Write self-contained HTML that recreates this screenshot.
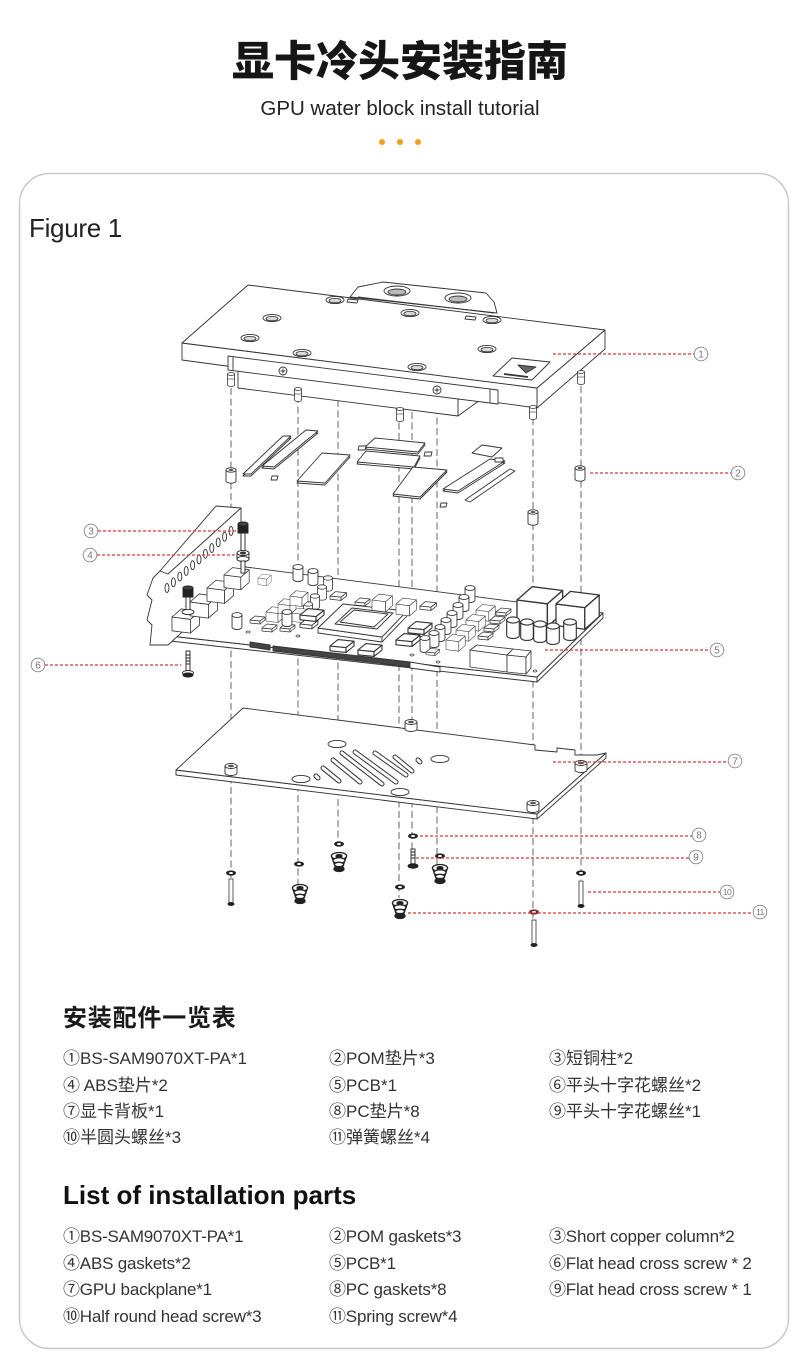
<!DOCTYPE html>
<html><head><meta charset="utf-8">
<style>
html,body{margin:0;padding:0;background:#fff;}
svg{display:block}
</style></head><body>
<svg width="800" height="1360" viewBox="0 0 800 1360" xmlns="http://www.w3.org/2000/svg" font-family="'Liberation Sans','Noto Sans CJK SC',sans-serif">
<defs>
 <g id="cap"><path d="M-4.5,0 V11 A4.5,2.2 0 0 0 4.5,11 V0 Z" fill="#fff" stroke="#333" stroke-width="0.8"/><ellipse rx="4.5" ry="2.2" fill="#fff" stroke="#333" stroke-width="0.8"/></g>
 <g id="cube" fill="#fff" stroke="#333" stroke-width="0.7" stroke-linejoin="round"><path d="M0,0 L16,2 L16,14 L0,12Z"/><path d="M16,2 L24,-5 L24,7 L16,14Z"/><path d="M0,0 L8,-7 L24,-5 L16,2Z"/></g>
 <g id="chip" fill="#fff" stroke="#333" stroke-width="0.7" stroke-linejoin="round"><path d="M0,0 L10,1 L10,4 L0,3Z"/><path d="M10,1 L15,-3 L15,0 L10,4Z"/><path d="M0,0 L5,-4 L15,-3 L10,1Z"/></g>
 <g id="hole"><ellipse rx="9" ry="3.6" fill="#fff" stroke="#333" stroke-width="0.9"/><ellipse cy="0.6" rx="6" ry="2.2" fill="#d8d8d8" stroke="#333" stroke-width="0.8"/></g>
 <g id="washer"><ellipse rx="5" ry="2.6" fill="#222"/><ellipse rx="2" ry="1" fill="#fff"/></g>
 <g id="spring" stroke="#222" stroke-width="1.3" fill="#fff">
  <path d="M-7.5,0 L-3,13 L3,13 L7.5,0Z"/>
  <ellipse rx="7.5" ry="3.5"/>
  <ellipse cy="4.5" rx="6" ry="2.8"/>
  <ellipse cy="8.5" rx="4.5" ry="2.2"/>
  <ellipse cy="13" rx="5" ry="2.5" fill="#222"/>
  <ellipse rx="3" ry="1.4" fill="#222"/>
 </g>
 <g id="screw"><rect x="-2" y="0" width="4" height="24" fill="#fff" stroke="#333" stroke-width="0.8"/><ellipse cy="25" rx="3.5" ry="2" fill="#222"/></g>
 <g id="nut"><path d="M-6,0 V7 A6,2.5 0 0 0 6,7 V0Z" fill="#fff" stroke="#333" stroke-width="0.9"/><ellipse rx="6" ry="2.5" fill="#fff" stroke="#333" stroke-width="0.9"/><ellipse rx="3" ry="1.2" fill="#555"/></g>
 <g id="pom"><path d="M-5,0 V11 A5,2.2 0 0 0 5,11 V0Z" fill="#fff" stroke="#333" stroke-width="0.9"/><ellipse rx="5" ry="2.2" fill="#fff" stroke="#333" stroke-width="0.9"/><ellipse rx="2.5" ry="1" fill="#555"/></g>
 <g id="post"><path d="M-3.5,0 V11 A3.5,1.5 0 0 0 3.5,11 V0Z" fill="#fff" stroke="#333" stroke-width="0.8"/><ellipse rx="3.5" ry="1.5" fill="#fff" stroke="#333" stroke-width="0.8"/><path d="M-3.5,5 H3.5" stroke="#333" stroke-width="0.6"/></g>
 <g id="lbl"><circle r="6.8" fill="#fff" stroke="#888" stroke-width="0.9"/></g>
</defs>

<!-- Header -->
<text x="400" y="76" text-anchor="middle" font-size="42" font-weight="900" fill="#161616" font-family="'Noto Sans CJK SC',sans-serif">显卡冷头安装指南</text>
<text x="400" y="115" text-anchor="middle" font-size="20.5" fill="#222">GPU water block install tutorial</text>
<circle cx="382" cy="142" r="3" fill="#f0a01e"/>
<circle cx="400" cy="142" r="3" fill="#f0a01e"/>
<circle cx="418" cy="142" r="3" fill="#f0a01e"/>

<!-- Card -->
<rect x="19.5" y="173.5" width="769" height="1175" rx="30" ry="30" fill="#fff" stroke="#c9c9c9" stroke-width="1.5"/>
<text x="29" y="237" font-size="26" fill="#222" letter-spacing="-0.3">Figure 1</text>

<!-- Dashed vertical guide lines -->
<g stroke="#555" stroke-width="0.9" stroke-dasharray="7,3.5" fill="none">
 <path d="M231,388 V878"/>
 <path d="M298,396 V885"/>
 <path d="M338,400 V845"/>
 <path d="M399,412 V898"/>
 <path d="M412,412 V850"/>
 <path d="M437,407 V865"/>
 <path d="M533,418 V920"/>
 <path d="M581,386 V880"/>
</g>

<!-- Water block -->
<g fill="#fff" stroke="#333" stroke-width="0.9" stroke-linejoin="round">
 <polygon points="238,366 458,395 458,416 238,388"/>
 <polygon points="458,395 480,380 480,400 458,416"/>
 <polygon points="537,388 605,330 605,349 537,408"/>
 <polygon points="182,343 537,388 537,408 182,360"/>
 <polygon points="228,356 498,390 498,404 228,370"/>
 <path d="M233,357 V370 M490,389 V403" fill="none"/>
 <polygon points="182,343 248,285 605,330 537,388"/>
 <polygon points="350,297 358,287 383,282 486,293 494,302 497,313 360,298"/>
 <path d="M358,297 L494,313" fill="none"/>
 <ellipse cx="397" cy="291" rx="13" ry="5"/>
 <ellipse cx="397" cy="292" rx="9" ry="3" fill="#bbb"/>
 <ellipse cx="458" cy="298" rx="13" ry="5"/>
 <ellipse cx="458" cy="299" rx="9" ry="3" fill="#bbb"/>
 <polygon points="348,299 358,300 357,303 347,302"/>
 <polygon points="466,316 476,317 475,320 465,319"/>
 <polygon points="512,358 550,362 532,380 493,376"/>
 <polygon points="518,365 536,367 526,373" fill="#666"/>
 <path d="M504,374 L528,377" stroke-width="1.8"/>
</g>
<use href="#hole" x="335" y="300"/>
<use href="#hole" x="272" y="318"/>
<use href="#hole" x="250" y="338"/>
<use href="#hole" x="302" y="353"/>
<use href="#hole" x="410" y="313"/>
<use href="#hole" x="492" y="320"/>
<use href="#hole" x="487" y="349"/>
<use href="#hole" x="417" y="367"/>
<g fill="#fff" stroke="#333" stroke-width="0.9">
 <circle cx="283" cy="371" r="4"/><path d="M280.5,371 H285.5 M283,368.5 V373.5"/>
 <circle cx="437" cy="390" r="4"/><path d="M434.5,390 H439.5 M437,387.5 V392.5"/>
</g>
<use href="#post" x="231" y="374"/>
<use href="#post" x="533" y="407"/>
<use href="#post" x="581" y="372"/>
<use href="#post" x="298" y="389" transform="translate(0,0)"/>
<use href="#post" x="400" y="409"/>

<!-- Thermal pads -->
<g fill="#fff" stroke="#333" stroke-width="0.9" stroke-linejoin="round">
 <polygon points="243,476 283,438 291,438 251,476"/>
 <polygon points="243,474 283,436 291,436 251,474"/>
 <polygon points="262,468 306,432 318,433 274,469"/>
 <polygon points="262,466 306,430 318,431 274,467"/>
 <polygon points="272,476 278,476 277,480 271,480"/>
 <polygon points="297,483 322,455 350,457 325,485"/>
 <polygon points="297,481 322,453 350,455 325,483"/>
 <polygon points="357,464 366,453 420,458 414,469"/>
 <polygon points="357,462 366,451 420,456 414,467"/>
 <polygon points="365,449 375,440 425,445 418,454"/>
 <polygon points="365,447 375,438 425,443 418,452"/>
 <polygon points="359,446 366,446 365,450 358,450"/>
 <polygon points="425,452 432,452 431,456 424,456"/>
 <polygon points="393,496 413,469 447,472 420,499"/>
 <polygon points="393,494 413,467 447,470 420,497"/>
 <polygon points="441,503 447,503 446,507 440,507"/>
 <polygon points="472,453 482,445 502,448 492,457"/>
 <polygon points="443,491 490,461 505,463 458,493"/>
 <polygon points="443,489 490,459 505,461 458,491"/>
 <polygon points="465,500 510,469 515,471 470,502"/>
 <polygon points="495,458 503,458 503,462 495,462"/>
</g>
<use href="#pom" x="231" y="470"/>
<use href="#pom" x="580" y="468"/>
<use href="#pom" x="533" y="512"/>

<!-- PCB board -->
<g fill="#fff" stroke="#333" stroke-width="0.9" stroke-linejoin="round">
 <polygon points="170,636 537,677 537,682 170,641"/>
 <polygon points="537,677 603,613 603,618 537,682"/>
 <polygon points="170,636 238,566 603,613 537,677"/>
 <polygon points="273,646 410,662 410,667 273,651" fill="#444"/>
 <polygon points="250,642 270,645 270,650 250,647" fill="#444"/>
 <polygon points="410,662 440,667 440,672 410,668"/>
</g>
<g fill="#fff" stroke="#333" stroke-width="0.7">
 <ellipse cx="248" cy="632" rx="2" ry="1"/><ellipse cx="298" cy="636" rx="2" ry="1"/>
 <ellipse cx="412" cy="655" rx="2" ry="1"/><ellipse cx="535" cy="671" rx="2" ry="1"/>
 <ellipse cx="596" cy="613" rx="2" ry="1"/><ellipse cx="438" cy="662" rx="2" ry="1"/>
</g>

<!-- Bracket -->
<g fill="#fff" stroke="#333" stroke-width="0.9" stroke-linejoin="round">
 <polygon points="160,571 241,508 241,578 168,645 150,645 152,625 147,620 152,600 147,595 153,578"/>
 <polygon points="216,506 241,508 168,574 160,571"/>
</g>
<g fill="#fff" stroke="#333" stroke-width="0.9">
 <ellipse cx="167" cy="588" rx="2" ry="4.5"/>
 <ellipse cx="173.4" cy="582.3" rx="2" ry="4.5"/>
 <ellipse cx="179.8" cy="576.6" rx="2" ry="4.5"/>
 <ellipse cx="186.2" cy="570.9" rx="2" ry="4.5"/>
 <ellipse cx="192.6" cy="565.2" rx="2" ry="4.5"/>
 <ellipse cx="199" cy="559.5" rx="2" ry="4.5"/>
 <ellipse cx="205.4" cy="553.8" rx="2" ry="4.5"/>
 <ellipse cx="211.8" cy="548.1" rx="2" ry="4.5"/>
 <ellipse cx="218.2" cy="542.4" rx="2" ry="4.5"/>
 <ellipse cx="224.6" cy="536.7" rx="2" ry="4.5"/>
 <ellipse cx="231" cy="531" rx="2" ry="4.5"/>
</g>

<!-- PCB components -->
<use href="#cube" transform="translate(172,617) scale(1.15)"/>
<use href="#cube" transform="translate(190,602) scale(1.15)"/>
<use href="#cube" transform="translate(207,588) scale(1.1)"/>
<use href="#cube" transform="translate(224,575) scale(1.05)"/>
<use href="#cube" transform="translate(258,578) scale(0.55)"/>
<use href="#cap" transform="translate(237,615) scale(1.1)"/>
<use href="#cap" transform="translate(298,567) scale(1.1)"/>
<use href="#cap" transform="translate(313,571) scale(1.1)"/>
<use href="#cap" transform="translate(328,578) scale(1)"/>
<use href="#cap" transform="translate(322,587) scale(1)"/>
<use href="#cap" transform="translate(315,596) scale(1)"/>
<use href="#cap" transform="translate(308,604) scale(1)"/>
<use href="#cube" transform="translate(266,612) scale(0.75)"/>
<use href="#cube" transform="translate(278,604) scale(0.75)"/>
<use href="#cube" transform="translate(290,596) scale(0.75)"/>
<use href="#cube" transform="translate(292,613) scale(0.7)"/>
<use href="#chip" transform="translate(250,620) scale(1)"/>
<use href="#chip" transform="translate(262,628) scale(1)"/>
<use href="#chip" transform="translate(280,628) scale(1)"/>
<use href="#chip" transform="translate(330,596) scale(1.1)"/>
<use href="#cap" transform="translate(287,612) scale(1.1)"/>
<use href="#chip" transform="translate(300,624) scale(1.2)"/>
<!-- GPU -->
<g fill="#fff" stroke="#333" stroke-width="0.9" stroke-linejoin="round">
 <polygon points="318,628 382,637 382,642 318,633"/>
 <polygon points="382,637 407,611 407,616 382,642"/>
 <polygon points="318,628 343,604 407,611 382,637"/>
 <polygon points="335,624 352,608 393,613 377,629"/>
 <polygon points="340,622 354,610 388,614 374,627" fill="none"/>
</g>
<use href="#chip" transform="translate(300,615) scale(1.6)"/>
<use href="#chip" transform="translate(330,646) scale(1.6)"/>
<use href="#chip" transform="translate(358,650) scale(1.6)"/>
<use href="#chip" transform="translate(396,640) scale(1.6)"/>
<use href="#chip" transform="translate(408,628) scale(1.6)"/>
<use href="#cube" transform="translate(372,600) scale(0.85)"/>
<use href="#cube" transform="translate(396,604) scale(0.85)"/>
<use href="#chip" transform="translate(420,606) scale(1.1)"/>
<use href="#chip" transform="translate(355,602) scale(1)"/>
<!-- right VRM -->
<use href="#cap" transform="translate(470,588) scale(1.1)"/>
<use href="#cap" transform="translate(464,597) scale(1.1)"/>
<use href="#cap" transform="translate(458,605) scale(1.1)"/>
<use href="#cap" transform="translate(452,613) scale(1.1)"/>
<use href="#cap" transform="translate(446,620) scale(1.1)"/>
<use href="#cap" transform="translate(440,627) scale(1.1)"/>
<use href="#cap" transform="translate(434,633) scale(1.1)"/>
<use href="#cube" transform="translate(476,610) scale(0.8)"/>
<use href="#cube" transform="translate(466,620) scale(0.8)"/>
<use href="#cube" transform="translate(456,630) scale(0.8)"/>
<use href="#cube" transform="translate(446,640) scale(0.8)"/>
<use href="#chip" transform="translate(496,612) scale(1)"/>
<use href="#chip" transform="translate(490,620) scale(1)"/>
<use href="#chip" transform="translate(484,628) scale(1)"/>
<use href="#chip" transform="translate(478,636) scale(1)"/>
<use href="#cap" transform="translate(425,638) scale(1.1)"/>
<use href="#chip" transform="translate(426,652) scale(0.9)"/>
<use href="#cube" transform="translate(517,600) scale(1.9)"/>
<use href="#cube" transform="translate(556,604) scale(1.8)"/>
<use href="#cap" transform="translate(513,620) scale(1.4)"/>
<use href="#cap" transform="translate(527,622) scale(1.4)"/>
<use href="#cap" transform="translate(540,624) scale(1.4)"/>
<use href="#cap" transform="translate(553,626) scale(1.4)"/>
<use href="#cap" transform="translate(570,622) scale(1.4)"/>
<g fill="#fff" stroke="#333" stroke-width="0.8" stroke-linejoin="round">
 <polygon points="470,650 507,655 507,672 470,667"/>
 <polygon points="470,650 477,645 513,649 507,655"/>
 <polygon points="507,655 526,657 526,674 507,672"/>
 <polygon points="507,655 513,649 531,651 526,657"/>
 <polygon points="526,657 531,651 531,668 526,674"/>
</g>

<!-- Copper columns, gaskets, screw 6 -->
<g stroke="#222" stroke-width="0.9">
 <rect x="241" y="532" width="4" height="22" fill="#fff"/>
 <polygon points="238,524 248,524 248,533 238,533" fill="#222"/>
 <ellipse cx="243" cy="524" rx="5" ry="2" fill="#444"/>
 <path d="M243,556 V562 A6,3 0 0 0 ..." fill="none" stroke="none"/>
 <rect x="237" y="553" width="12" height="6" fill="#fff"/>
 <ellipse cx="243" cy="553" rx="6" ry="2.6" fill="#fff"/>
 <ellipse cx="243" cy="553" rx="2.5" ry="1.1" fill="#444"/>
 <ellipse cx="243" cy="559" rx="6" ry="2.6" fill="#fff" stroke-dasharray="0"/>
 <rect x="241" y="561" width="4" height="12" fill="#fff"/>
 <rect x="186" y="596" width="4" height="14" fill="#fff"/>
 <polygon points="183,588 193,588 193,597 183,597" fill="#222"/>
 <ellipse cx="188" cy="588" rx="5" ry="2" fill="#444"/>
 <ellipse cx="188" cy="612" rx="6" ry="2.6" fill="#fff"/>
 <rect x="186" y="651" width="4" height="20" fill="#fff"/>
 <path d="M186,655 H190 M186,658 H190 M186,661 H190 M186,664 H190" fill="none"/>
 <ellipse cx="188" cy="673" rx="5.5" ry="2.5" fill="#fff"/>
 <ellipse cx="188" cy="675" rx="5" ry="2" fill="#222"/>
</g>

<!-- Backplate -->
<g fill="#fff" stroke="#333" stroke-width="0.9" stroke-linejoin="round">
 <polygon points="176,770 537,814 537,819 176,775"/>
 <polygon points="537,814 606,753 606,758 537,819"/>
 <polygon points="243,708 535,745 535,750 557,752 557,748 575,750 575,755 597,755 606,753 537,814 176,770"/>
 <ellipse cx="337" cy="744" rx="9" ry="3.6"/>
 <ellipse cx="301" cy="779" rx="9" ry="3.6"/>
 <ellipse cx="400" cy="792" rx="9" ry="3.6"/>
 <ellipse cx="440" cy="759" rx="9" ry="3.6"/>
</g>
<g fill="none" stroke-linecap="round">
 <g stroke="#333" stroke-width="5">
  <path d="M323,768 L339,781"/><path d="M333,760 L360,782"/><path d="M342,753 L382,784"/>
  <path d="M355,752 L396,782"/><path d="M375,753 L406,775"/><path d="M395,757 L412,771"/>
  <path d="M418,760 L420,762"/><path d="M316,776 L318,778"/>
 </g>
 <g stroke="#fff" stroke-width="3">
  <path d="M323,768 L339,781"/><path d="M333,760 L360,782"/><path d="M342,753 L382,784"/>
  <path d="M355,752 L396,782"/><path d="M375,753 L406,775"/><path d="M395,757 L412,771"/>
  <path d="M418,760 L420,762"/><path d="M316,776 L318,778"/>
 </g>
</g>
<use href="#nut" x="231" y="766"/>
<use href="#nut" x="411" y="722"/>
<use href="#nut" x="533" y="803"/>
<use href="#nut" x="581" y="763"/>

<!-- Bottom hardware -->
<use href="#washer" x="231" y="873"/>
<use href="#screw" x="231" y="879"/>
<use href="#washer" x="299" y="864"/>
<use href="#spring" x="300" y="888"/>
<use href="#washer" x="339" y="844"/>
<use href="#spring" x="339" y="856"/>
<use href="#washer" x="400" y="887"/>
<use href="#spring" x="400" y="903"/>
<use href="#washer" x="440" y="856"/>
<use href="#spring" x="440" y="868"/>
<use href="#washer" x="413" y="836"/>
<g stroke="#222" stroke-width="0.9"><rect x="411" y="849" width="4" height="15" fill="#fff"/><path d="M411,852 H415 M411,855 H415 M411,858 H415" fill="none"/><ellipse cx="413" cy="866" rx="5" ry="2.3" fill="#222"/></g>
<use href="#washer" x="581" y="873"/>
<use href="#screw" x="581" y="881"/>
<ellipse cx="534" cy="912" rx="5" ry="2.6" fill="#7a2a2a"/>
<ellipse cx="534" cy="912" rx="2" ry="1" fill="#fff"/>
<use href="#screw" x="534" y="920"/>

<!-- Red leaders -->
<g stroke="#d43a3a" stroke-width="1.2" stroke-dasharray="3,2" fill="none">
 <path d="M553,354 H694"/>
 <path d="M590,473 H731"/>
 <path d="M98,531 H237"/>
 <path d="M97,555 H236"/>
 <path d="M545,650 H710"/>
 <path d="M45,665 H181"/>
 <path d="M553,762 H728"/>
 <path d="M420,836 H692"/>
 <path d="M416,858 H689"/>
 <path d="M588,892 H720"/>
 <path d="M408,913 H753"/>
</g>
<use href="#lbl" x="701" y="354"/>
<use href="#lbl" x="738" y="473"/>
<use href="#lbl" x="91" y="531"/>
<use href="#lbl" x="90" y="555"/>
<use href="#lbl" x="717" y="650"/>
<use href="#lbl" x="38" y="665"/>
<use href="#lbl" x="735" y="761"/>
<use href="#lbl" x="699" y="835"/>
<use href="#lbl" x="696" y="857"/>
<use href="#lbl" x="727" y="892"/>
<use href="#lbl" x="760" y="912"/>
<g font-size="10" fill="#777" text-anchor="middle">
 <text x="701" y="357.5">1</text>
 <text x="738" y="476.5">2</text>
 <text x="91" y="534.5">3</text>
 <text x="90" y="558.5">4</text>
 <text x="717" y="653.5">5</text>
 <text x="38" y="668.5">6</text>
 <text x="735" y="764.5">7</text>
 <text x="699" y="838.5">8</text>
 <text x="696" y="860.5">9</text>
 <text x="727" y="895" font-size="8.5" letter-spacing="-0.5">10</text>
 <text x="760" y="915" font-size="8.5" letter-spacing="-0.5">11</text>
</g>

<!-- Chinese parts list -->
<text x="63" y="1026" font-size="24" font-weight="bold" fill="#1a1a1a" letter-spacing="0.8" font-family="'Noto Sans CJK SC',sans-serif">安装配件一览表</text>
<g font-size="17" fill="#333">
 <text x="63" y="1064">①BS-SAM9070XT-PA*1</text>
 <text x="329" y="1064">②POM垫片*3</text>
 <text x="549" y="1064">③短铜柱*2</text>
 <text x="63" y="1091">④ ABS垫片*2</text>
 <text x="329" y="1091">⑤PCB*1</text>
 <text x="549" y="1091">⑥平头十字花螺丝*2</text>
 <text x="63" y="1117">⑦显卡背板*1</text>
 <text x="329" y="1117">⑧PC垫片*8</text>
 <text x="549" y="1117">⑨平头十字花螺丝*1</text>
 <text x="63" y="1143">⑩半圆头螺丝*3</text>
 <text x="329" y="1143">⑪弹簧螺丝*4</text>
</g>

<!-- English parts list -->
<text x="63" y="1204" font-size="26" font-weight="bold" fill="#111">List of installation parts</text>
<g font-size="17" fill="#333" letter-spacing="-0.2">
 <text x="63" y="1242">①BS-SAM9070XT-PA*1</text>
 <text x="329" y="1242">②POM gaskets*3</text>
 <text x="549" y="1242">③Short copper column*2</text>
 <text x="63" y="1269">④ABS gaskets*2</text>
 <text x="329" y="1269">⑤PCB*1</text>
 <text x="549" y="1269">⑥Flat head cross screw * 2</text>
 <text x="63" y="1295">⑦GPU backplane*1</text>
 <text x="329" y="1295">⑧PC gaskets*8</text>
 <text x="549" y="1295">⑨Flat head cross screw * 1</text>
 <text x="63" y="1322">⑩Half round head screw*3</text>
 <text x="329" y="1322">⑪Spring screw*4</text>
</g>
</svg>
</body></html>
